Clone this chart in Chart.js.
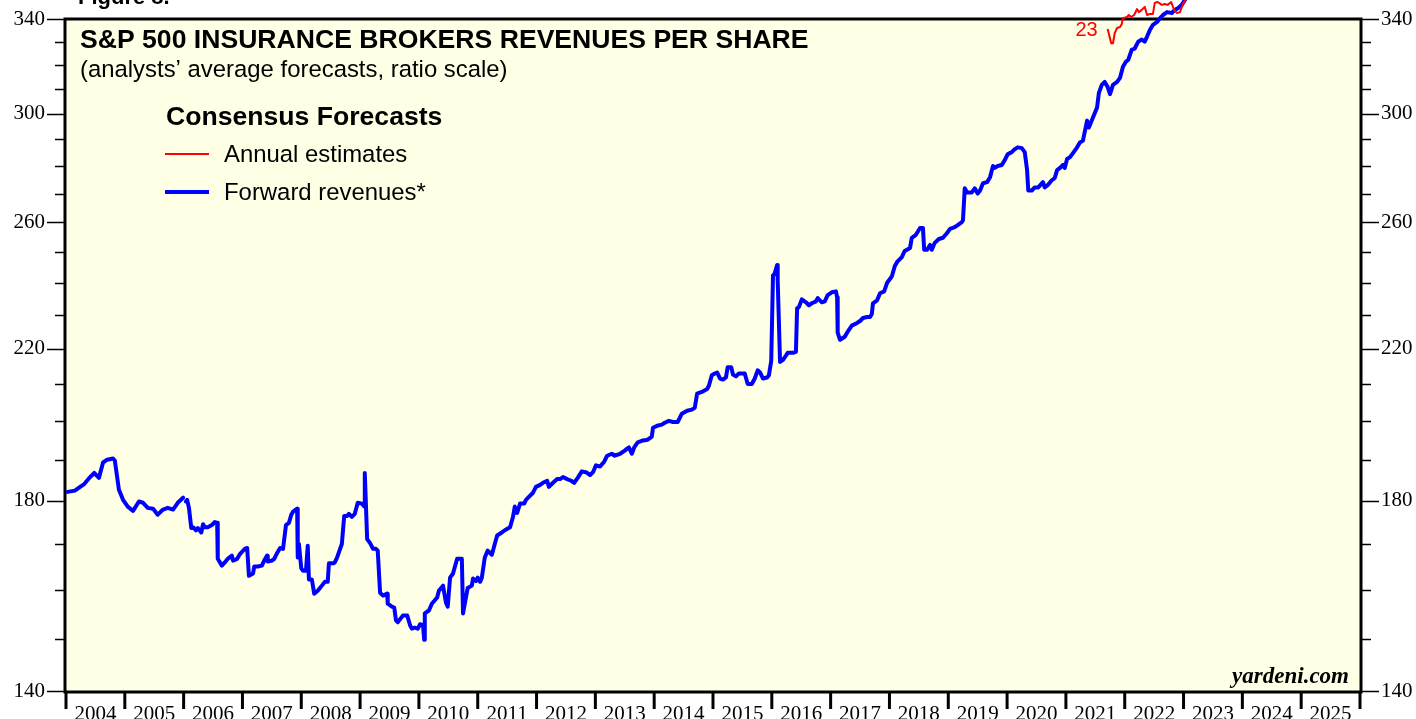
<!DOCTYPE html>
<html><head><meta charset="utf-8">
<script src="https://cdn.jsdelivr.net/npm/chart.js@4.4.0/dist/chart.umd.min.js"></script>
<style>html,body{margin:0;padding:0;background:#fff;overflow:hidden}canvas{display:block}</style>
</head><body>
<canvas id="c" width="1416" height="719"></canvas>
<script>
const yearLabels = ['2004','2005','2006','2007','2008','2009','2010','2011','2012','2013','2014','2015','2016','2017','2018','2019','2020','2021','2022','2023','2024','2025'];
const yTicks = [140,150,160,170,180,190,200,210,220,230,240,250,260,270,280,290,300,310,320,330,340];
const yTickLabels = [140,180,220,260,300,340];

const fwdDates = [
2004.03,2004.15,2004.24,2004.31,2004.41,2004.48,2004.56,2004.63,2004.70,2004.80,2004.83,2004.90,2004.97,
2005.05,2005.14,2005.24,2005.31,2005.39,2005.48,2005.56,2005.65,2005.73,2005.82,2005.90,2005.99,2006.01,
2006.04,2006.06,2006.09,2006.13,2006.16,2006.21,2006.24,2006.30,2006.33,2006.36,2006.41,2006.48,2006.53,2006.57,2006.58,2006.65,2006.70,2006.75,2006.82,2006.84,2006.91,2006.96,
2007.04,2007.08,2007.11,2007.18,2007.20,2007.26,2007.33,2007.37,2007.42,2007.43,2007.50,2007.54,2007.59,2007.64,2007.69,2007.74,2007.79,2007.83,2007.86,2007.93,2007.94,2007.96,
2008.00,2008.03,2008.08,2008.11,2008.13,2008.18,2008.22,2008.28,2008.35,2008.40,2008.45,2008.47,2008.54,2008.57,2008.61,2008.66,2008.69,2008.73,2008.78,2008.81,2008.86,2008.91,2008.96,
2009.03,2009.07,2009.08,2009.12,2009.17,2009.22,2009.27,2009.30,2009.34,2009.39,2009.46,2009.47,2009.54,2009.58,2009.61,2009.64,2009.73,2009.80,2009.85,2009.88,2009.93,2009.98,
2010.02,2010.07,2010.09,2010.10,2010.17,2010.22,2010.31,2010.34,2010.41,2010.46,2010.49,2010.53,2010.58,2010.65,2010.70,2010.73,2010.75,2010.80,2010.83,2010.90,2010.92,2010.97,
2011.00,2011.04,2011.07,2011.12,2011.17,2011.24,2011.29,2011.33,2011.41,2011.46,2011.55,2011.60,2011.63,2011.67,2011.72,2011.79,2011.82,2011.89,2011.94,2011.99,
2012.06,2012.11,2012.18,2012.21,2012.28,2012.35,2012.40,2012.45,2012.52,2012.59,2012.64,2012.70,2012.77,2012.84,2012.91,2012.96,
2013.01,2013.08,2013.15,2013.20,2013.28,2013.33,2013.42,2013.50,2013.54,2013.57,2013.62,2013.66,2013.72,2013.81,2013.89,2013.96,2013.98,
2014.05,2014.13,2014.18,2014.25,2014.32,2014.40,2014.47,2014.56,2014.64,2014.69,2014.73,2014.81,2014.90,2014.93,2014.98,
2015.03,2015.07,2015.12,2015.17,2015.22,2015.25,2015.31,2015.34,2015.39,2015.44,2015.51,2015.54,2015.59,2015.66,2015.71,2015.76,2015.80,2015.85,2015.92,2015.95,2015.99,
2016.02,2016.05,2016.09,2016.10,2016.14,2016.19,2016.24,2016.27,2016.36,2016.41,2016.43,2016.46,2016.51,2016.58,2016.63,2016.68,2016.75,2016.78,2016.85,2016.90,2016.95,
2017.02,2017.09,2017.11,2017.12,2017.16,2017.24,2017.29,2017.36,2017.45,2017.50,2017.55,2017.62,2017.67,2017.70,2017.72,2017.79,2017.84,2017.91,2017.96,
2018.04,2018.09,2018.13,2018.21,2018.26,2018.35,2018.38,2018.45,2018.52,2018.57,2018.59,2018.64,2018.69,2018.72,2018.77,2018.84,2018.91,2018.98,
2019.03,2019.11,2019.16,2019.23,2019.25,2019.28,2019.32,2019.40,2019.45,2019.50,2019.54,2019.59,2019.66,2019.71,2019.76,2019.79,2019.84,2019.91,2019.96,
2020.01,2020.08,2020.13,2020.18,2020.25,2020.30,2020.34,2020.36,2020.42,2020.47,2020.53,2020.61,2020.64,2020.69,2020.76,2020.81,2020.85,2020.90,2020.95,2020.98,
2021.02,2021.07,2021.12,2021.19,2021.24,2021.29,2021.36,2021.39,2021.46,2021.53,2021.56,2021.61,2021.66,2021.71,2021.75,2021.80,2021.87,2021.92,2021.97,
2022.02,2022.06,2022.12,2022.17,2022.23,2022.29,2022.34,2022.38,2022.43,2022.48,2022.55,2022.60,2022.65,2022.72,2022.80,2022.85,2022.91,2022.97,
2023.02,2023.12];

const fwdValues = [
182.1,182.4,183.3,184.0,185.7,186.7,185.5,189.3,190.0,190.3,189.8,182.6,180.2,
178.6,177.6,179.8,179.5,178.3,178.1,176.7,177.9,178.3,177.9,179.5,180.7,null,
179.8,180.2,178.3,173.6,173.8,173.1,173.6,172.6,174.5,173.8,173.8,174.3,175.0,174.8,166.7,165.2,165.9,166.7,167.4,166.3,166.7,167.8,
168.9,169.1,163.0,163.5,165.0,165.0,165.2,166.3,167.4,166.1,166.3,166.7,168.0,169.1,168.9,174.3,174.8,176.7,177.4,178.1,167.0,170.0,
164.6,164.1,164.1,169.6,162.2,162.2,159.2,159.8,160.9,161.7,161.7,165.7,165.7,165.9,167.0,168.9,170.0,176.4,176.4,176.9,176.2,176.9,179.5,
179.3,178.6,186.7,171.1,170.2,168.9,168.9,168.5,159.4,158.8,159.2,157.1,156.5,156.3,153.7,153.3,154.7,154.7,152.7,152.0,152.2,152.0,
152.9,152.7,149.8,155.1,155.7,157.1,158.4,159.8,160.9,157.3,156.5,162.6,163.5,166.7,166.7,166.7,155.1,158.4,160.4,160.9,162.4,161.9,
162.6,161.7,162.6,167.0,168.5,167.6,170.0,171.9,172.6,173.1,173.8,176.2,178.6,177.1,179.3,179.3,180.2,181.2,181.9,183.3,
183.8,184.3,184.8,183.3,184.3,185.2,185.2,185.7,185.2,184.8,184.3,185.5,187.1,186.9,186.2,186.9,
188.6,188.3,189.5,191.0,191.5,191.0,191.5,192.3,192.8,193.1,191.5,193.1,194.4,194.9,195.1,195.9,198.2,
198.7,199.0,199.5,200.0,199.7,199.7,201.9,202.7,203.0,203.5,207.3,207.8,208.6,209.5,212.4,
212.9,213.2,211.5,211.2,211.8,214.7,214.7,212.6,212.1,212.9,212.9,212.9,210.0,210.0,211.5,213.8,213.2,211.5,211.8,212.4,216.5,
242.3,243.0,245.7,240.7,216.2,216.8,218.0,218.8,218.8,219.1,232.1,232.4,234.8,233.9,233.0,233.6,234.2,235.2,233.9,234.2,236.1,
237.0,237.3,235.5,224.7,222.6,223.5,225.0,226.8,227.6,228.2,229.1,229.4,229.4,230.3,233.6,234.5,236.7,237.3,240.0,
242.0,245.3,246.7,248.3,250.3,251.3,254.7,255.7,258.0,258.0,250.7,250.7,252.3,250.7,253.0,254.3,254.7,256.3,
257.7,258.3,259.0,260.0,260.7,271.9,270.4,270.4,271.9,270.0,271.1,273.7,274.1,275.9,280.0,279.3,280.0,280.4,282.2,
284.4,285.2,286.3,287.0,286.7,285.2,278.5,271.1,271.1,272.2,272.2,274.1,272.2,273.0,274.8,275.6,278.5,279.3,280.4,279.3,
282.6,283.3,284.8,287.0,288.9,289.6,297.3,294.6,298.5,302.5,308.3,311.7,312.9,310.8,307.9,311.7,312.9,314.6,319.2,
321.3,322.2,326.5,327.0,330.0,330.9,330.0,332.2,335.2,337.4,338.7,340.4,341.8,343.1,342.7,344.1,345.0,346.4,
348.6,352.0];

const estDates = [2021.71,2021.77,2021.80,2021.83,2021.87,2021.92,2021.95,2021.97,2022.04,2022.07,2022.11,2022.16,2022.21,2022.24,2022.29,2022.34,2022.38,2022.43,2022.48,2022.51,2022.56,2022.63,2022.68,2022.73,2022.79,2022.82,2022.85,2022.89,2022.94,2022.99,2023.04,2023.15,2023.35,2023.55,2023.64,2023.70,2023.78,2023.85];
const estValues = [335.5,329.3,329.3,333.7,336.0,336.4,337.8,340.4,340.9,341.8,340.9,341.8,344.5,343.1,344.1,345.5,341.8,342.3,342.3,347.3,347.7,346.4,346.8,346.4,347.7,345.5,343.6,342.7,343.1,346.8,349.5,354.0,357.0,353.0,349.6,349.2,350.5,354.0];
const estYearLabel = '23';

const titleText = 'S&P 500 INSURANCE BROKERS REVENUES PER SHARE';
const subtitleText = '(analysts\u2019 average forecasts, ratio scale)';
const legendTitle = 'Consensus Forecasts';
const seriesNames = ['Annual estimates', 'Forward revenues*'];

const toPts = (xs, ys) => xs.map((x, i) => ({x: x, y: ys[i]}));
const SANS = '"Liberation Sans", Arial, Helvetica, sans-serif';
const SERIF = '"Liberation Serif", "Times New Roman", serif';

const deco = {
  id: 'deco',
  beforeDatasetsDraw(chart) {
    const {ctx, chartArea: a} = chart;
    ctx.save();
    ctx.fillStyle = '#ffffe5';
    ctx.fillRect(a.left, a.top, a.right - a.left, a.bottom - a.top);
    ctx.lineWidth = 3;
    ctx.strokeStyle = '#000';
    ctx.strokeRect(a.left - 1, a.top, a.right - a.left + 2, a.bottom - a.top + 1);
    ctx.restore();
  },
  afterDraw(chart) {
    const {ctx, chartArea: a, scales} = chart;
    const ys = scales.y, xs = scales.x;
    ctx.save();
    ctx.strokeStyle = '#000';
    ctx.lineWidth = 1.5;
    yTicks.forEach(v => {
      const py = Math.round(ys.getPixelForValue(v)) + 0.5;
      const len = yTickLabels.includes(v) ? 17 : 9;
      ctx.beginPath();
      ctx.moveTo(a.left - 2 - len, py); ctx.lineTo(a.left - 1, py);
      ctx.moveTo(a.right + 1, py); ctx.lineTo(a.right + 2 + len, py);
      ctx.stroke();
    });
    ctx.lineWidth = 3;
    for (let i = 0; i <= yearLabels.length; i++) {
      const px = xs.getPixelForValue(2004 + i);
      ctx.beginPath();
      ctx.moveTo(px, a.bottom); ctx.lineTo(px, a.bottom + 18);
      ctx.stroke();
    }
    ctx.fillStyle = '#000';
    ctx.textBaseline = 'alphabetic';
    ctx.textAlign = 'left';
    ctx.font = 'bold 22px ' + SANS;
    ctx.fillText('Figure 8.', 78, 4);
    ctx.font = 'bold 26.6px ' + SANS;
    ctx.fillText(titleText, 80, 48);
    ctx.font = '23.9px ' + SANS;
    ctx.fillText(subtitleText, 80, 77);
    ctx.font = 'bold 26.6px ' + SANS;
    ctx.fillText(legendTitle, 166, 125);
    ctx.font = '23.9px ' + SANS;
    ctx.fillText(seriesNames[0], 224, 162);
    ctx.fillText(seriesNames[1], 224, 200);
    ctx.lineWidth = 2; ctx.strokeStyle = '#ff0000';
    ctx.beginPath(); ctx.moveTo(165, 154); ctx.lineTo(209, 154); ctx.stroke();
    ctx.lineWidth = 4; ctx.strokeStyle = '#0000ff';
    ctx.beginPath(); ctx.moveTo(165, 192); ctx.lineTo(209, 192); ctx.stroke();
    ctx.font = 'italic bold 23px ' + SERIF;
    ctx.textAlign = 'right';
    ctx.fillText('yardeni.com', 1349, 683);
    const p0x = xs.getPixelForValue(estDates[0]);
    const p0y = ys.getPixelForValue(estValues[0]);
    ctx.fillStyle = '#ff0000';
    ctx.font = '20px ' + SANS;
    ctx.textBaseline = 'middle';
    ctx.fillText(estYearLabel, p0x - 10, p0y + 1);
    ctx.restore();
  }
};

const tickFont = {family: SERIF, size: 21};
const yAxis = (pos, w) => ({
  type: 'logarithmic', min: 140, max: 340, position: pos,
  afterBuildTicks: s => { s.ticks = yTicks.map(v => ({value: v})); },
  afterFit: s => { s.width = w; s.paddingTop = 0; s.paddingBottom = 0; },
  ticks: {autoSkip: false, padding: 21, color: '#000', font: tickFont,
    callback: v => yTickLabels.includes(v) ? String(v) : ''},
  grid: {display: false, drawTicks: false},
  border: {display: false}
});

new Chart(document.getElementById('c'), {
  type: 'line',
  data: {datasets: [
    {label: seriesNames[0], data: toPts(estDates, estValues), borderColor: '#ff0000', borderWidth: 2,
     pointRadius: 0, tension: 0, clip: false, yAxisID: 'y', borderJoinStyle: 'round'},
    {label: seriesNames[1], data: toPts(fwdDates, fwdValues), borderColor: '#0000ff', borderWidth: 4,
     pointRadius: 0, tension: 0, clip: false, yAxisID: 'y', borderJoinStyle: 'round', borderCapStyle: 'round'}
  ]},
  options: {
    responsive: false, animation: false, devicePixelRatio: 1,
    layout: {padding: {top: 19, left: 0, right: 0, bottom: 0}},
    plugins: {legend: {display: false}, tooltip: {enabled: false}},
    scales: {
      x: {type: 'linear', min: 2004, max: 2026, position: 'bottom',
        afterBuildTicks: s => { s.ticks = yearLabels.map((l, i) => ({value: 2004 + i + 0.5})); },
        afterFit: s => { s.height = 28; s.paddingLeft = 0; s.paddingRight = 0; },
        ticks: {autoSkip: false, maxRotation: 0, minRotation: 0, padding: 11, color: '#000', font: tickFont,
          callback: (v, i) => yearLabels[i]},
        grid: {display: false, drawTicks: false},
        border: {display: false}},
      y: yAxis('left', 66),
      y2: yAxis('right', 56)
    }
  },
  plugins: [deco]
});
</script>
</body></html>
